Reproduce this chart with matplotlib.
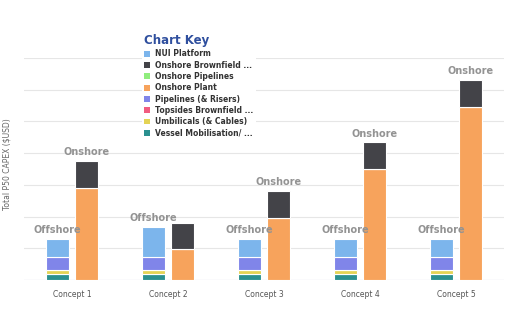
import matplotlib
matplotlib.use("Agg")
import matplotlib.pyplot as plt
import numpy as np
from matplotlib.patches import Patch

# data (units = one gridline step)
concepts = ["Concept 1", "Concept 2", "Concept 3", "Concept 4", "Concept 5"]

nui_platform = [0.57, 0.95, 0.57, 0.57, 0.57]
pipelines = [0.41, 0.41, 0.41, 0.41, 0.41]
topsides_bf = [0, 0, 0, 0, 0]
umbilicals = [0.13, 0.13, 0.13, 0.13, 0.13]
vessel_mob = [0.19, 0.19, 0.19, 0.19, 0.19]

onshore_plant = [2.90, 0.97, 1.96, 3.50, 5.46]
onshore_pipelines = [0, 0, 0, 0, 0]
onshore_bf = [0.85, 0.82, 0.84, 0.84, 0.84]

# stack labels shown in the chart (Concept 2 onshore label is hidden there)
offshore_labels = ["Offshore", "Offshore", "Offshore", "Offshore", "Offshore"]
onshore_labels = ["Onshore", "", "Onshore", "Onshore", "Onshore"]

legend_labels = ["NUI Platform", "Onshore Brownfield ...", "Onshore Pipelines",
                 "Onshore Plant", "Pipelines (& Risers)", "Topsides Brownfield ...",
                 "Umbilicals (& Cables)", "Vessel Mobilisation/ ..."]
COLORS = {
    "NUI Platform": "#7cb5ec",
    "Onshore Brownfield ...": "#434348",
    "Onshore Pipelines": "#90ed7d",
    "Onshore Plant": "#f7a35c",
    "Pipelines (& Risers)": "#8085e9",
    "Topsides Brownfield ...": "#f15c80",
    "Umbilicals (& Cables)": "#e4d354",
    "Vessel Mobilisation/ ...": "#2b908f",
}

fig = plt.figure(figsize=(5.09, 3.35), dpi=100)
ax = fig.add_axes([0.047, 0.164, 0.943, 0.663])

x = np.arange(len(concepts))
w = 0.24
off = 0.15

# offshore stack, bottom to top
offshore = [
    (vessel_mob, "Vessel Mobilisation/ ..."),
    (umbilicals, "Umbilicals (& Cables)"),
    (topsides_bf, "Topsides Brownfield ..."),
    (pipelines, "Pipelines (& Risers)"),
    (nui_platform, "NUI Platform"),
]
bottom = np.zeros(len(concepts))
for vals, name in offshore:
    ax.bar(x - off, vals, w, bottom=bottom, color=COLORS[name],
           edgecolor="white", linewidth=0.8, zorder=3)
    bottom += np.array(vals)
off_tot = bottom.copy()

onshore = [
    (onshore_plant, "Onshore Plant"),
    (onshore_pipelines, "Onshore Pipelines"),
    (onshore_bf, "Onshore Brownfield ..."),
]
bottom = np.zeros(len(concepts))
for vals, name in onshore:
    ax.bar(x + off, vals, w, bottom=bottom, color=COLORS[name],
           edgecolor="white", linewidth=0.8, zorder=3)
    bottom += np.array(vals)
on_tot = bottom.copy()

for i in range(len(concepts)):
    ax.text(x[i] - off, off_tot[i] + 0.12, offshore_labels[i], ha="center", va="bottom",
            fontsize=7, fontweight="bold", color="#939393", zorder=4)
    if onshore_labels[i]:
        ax.text(x[i] + off, on_tot[i] + 0.12, onshore_labels[i], ha="center", va="bottom",
                fontsize=7, fontweight="bold", color="#939393", zorder=4)

ax.set_xlim(-0.5, 4.5)
ax.set_ylim(0, 7)
ax.set_yticks(np.arange(0, 8))
ax.set_yticklabels([])
ax.set_xticks(x)
ax.set_xticklabels(concepts, fontsize=5.5, color="#555555")
ax.tick_params(length=0, pad=7)
ax.grid(axis="y", color="#e6e6e6", linewidth=0.8, zorder=0)
for s in ax.spines.values():
    s.set_visible(False)
ax.axhline(0, color="#ccd6eb", linewidth=0.8, zorder=2)
ax.set_ylabel("Total P50 CAPEX ($USD)", fontsize=5.5, color="#666666")
ax.yaxis.set_label_coords(-0.026, 0.52)

handles = [Patch(facecolor=COLORS[l], edgecolor="none") for l in legend_labels]
leg = ax.legend(handles, legend_labels, loc="upper left",
                bbox_to_anchor=(0.278, 0.905), bbox_transform=fig.transFigure,
                title="Chart Key", alignment="left",
                prop={"size": 5.5, "weight": "bold"},
                handlelength=0.8, handleheight=0.8, handletextpad=0.7,
                labelspacing=0.3, borderpad=0.3, borderaxespad=0,
                frameon=True, framealpha=1, facecolor="white", edgecolor="none")
leg.get_title().set_fontsize(8.5)
leg.get_title().set_fontweight("bold")
leg.get_title().set_color("#2f4f9e")
for t in leg.get_texts():
    t.set_color("#333333")
leg.set_zorder(5)

fig.savefig("out.png", dpi=100)
